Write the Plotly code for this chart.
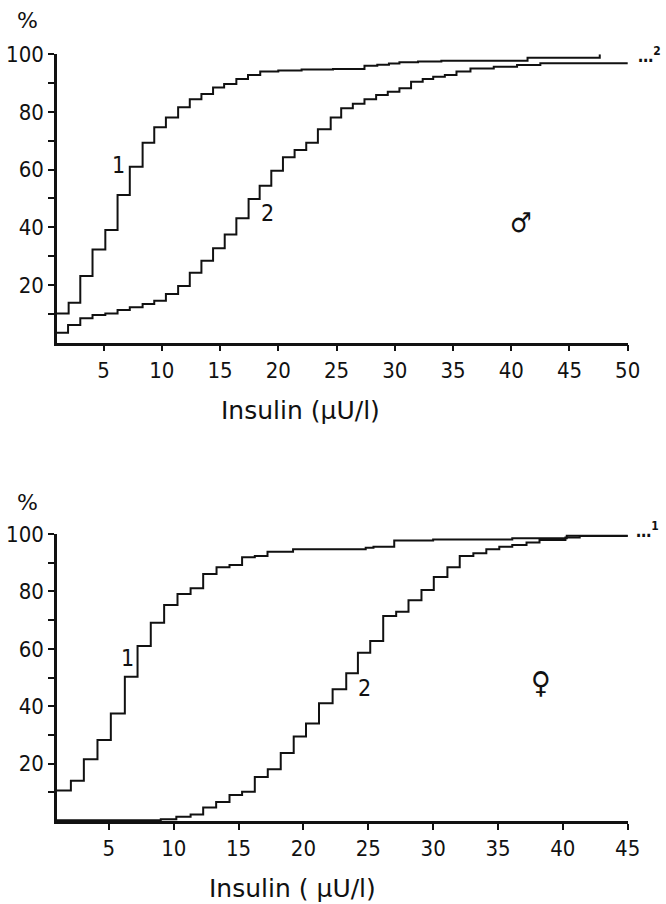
import plotly.graph_objects as go

# ---------------- data ----------------
# Male panel (top)
male_x1 = [1, 2.0, 3.0, 4.05, 5.15, 6.2, 7.25, 8.35, 9.35, 10.35, 11.4, 12.4, 13.4, 14.4,
           15.35, 16.4, 17.4, 18.45, 20.0, 22.0, 24.7, 27.4, 28.5, 29.5, 30.4, 32.0, 34.0,
           41.4, 47.6, 47.6]
male_y1 = [10.1, 13.8, 23.1, 32.3, 39.0, 51.2, 61.0, 69.3, 74.7, 78.1, 81.6, 84.4, 86.2, 88.5,
           89.7, 91.4, 92.8, 94.0, 94.4, 94.7, 94.9, 96.0, 96.4, 96.8, 97.2, 97.5, 97.8,
           98.8, 98.8, 100]
male_x2 = [1, 1.95, 3.0, 4.05, 5.15, 6.2, 7.25, 8.35, 9.35, 10.35, 11.4, 12.4, 13.4, 14.4,
           15.4, 16.4, 17.45, 18.4, 19.4, 20.4, 21.4, 22.4, 23.4, 24.5, 25.4, 26.4, 27.4,
           28.4, 29.4, 30.4, 31.4, 32.4, 33.3, 34.3, 35.3, 36.5, 38.5, 40.5, 42.5, 50.5]
male_y2 = [3.4, 6.1, 8.4, 9.5, 10.1, 11.3, 12.2, 13.4, 14.5, 16.8, 19.6, 24.2, 28.4, 32.7,
           37.5, 43.1, 49.8, 54.4, 59.6, 64.3, 66.8, 69.3, 74.0, 78.1, 81.3, 82.8, 84.4,
           85.9, 87.0, 88.2, 90.5, 91.4, 92.2, 92.8, 94.0, 95.1, 95.7, 96.3, 96.9, 97.3]

# Female panel (bottom)
female_x1 = [1, 2.07, 3.07, 4.12, 5.15, 6.23, 7.21, 8.23, 9.26, 10.29, 11.3, 12.27, 13.3,
             14.3, 15.27, 16.25, 17.23, 19.2, 24.8, 25.4, 27.0, 30.0, 36.1, 40.3, 45.3]
female_y1 = [10.6, 14.0, 21.5, 28.2, 37.5, 50.3, 61.0, 69.1, 75.3, 79.1, 81.1, 86.1, 88.4,
             89.2, 91.9, 92.3, 93.8, 94.7, 95.2, 95.6, 97.7, 98.1, 98.5, 99.4, 99.65]
female_x2 = [1, 9.0, 10.2, 11.3, 12.27, 13.27, 14.3, 15.27, 16.25, 17.25, 18.25, 19.25, 20.2,
             21.2, 22.25, 23.3, 24.2, 25.15, 26.15, 27.15, 28.1, 29.1, 30.05, 31.1, 32.05,
             33.1, 34.1, 35.1, 36.1, 37.2, 38.2, 40.2, 41.3, 45.3]
female_y2 = [0.3, 0.6, 1.5, 2.3, 4.7, 6.6, 9.1, 10.2, 15.3, 18.0, 23.7, 29.4, 34.0,
             41.0, 45.9, 51.5, 58.6, 62.7, 71.4, 72.9, 76.9, 80.5, 85.0, 88.4, 92.3,
             93.3, 94.7, 95.6, 96.2, 97.0, 97.9, 98.8, 99.3, 99.6]

male_xticks = [5, 10, 15, 20, 25, 30, 35, 40, 45, 50]
female_xticks = [5, 10, 15, 20, 25, 30, 35, 40, 45]
y_major_ticks = [20, 40, 60, 80, 100]
y_minor_ticks = [10, 30, 50, 70, 90]
x_title_male = "Insulin (μU/l)"
x_title_female = "Insulin ( μU/l)"

# ---------------- figure ----------------
FONT = "DejaVu Sans Condensed, Liberation Sans Narrow, Arial, sans-serif"
WIDE = "DejaVu Sans, Arial, sans-serif"
INK = "#111111"

fig = go.Figure()
line = dict(color=INK, width=2, shape="hv")
fig.add_trace(go.Scatter(x=male_x1, y=male_y1, mode="lines", line=line, xaxis="x", yaxis="y"))
fig.add_trace(go.Scatter(x=male_x2, y=male_y2, mode="lines", line=line, xaxis="x", yaxis="y"))
fig.add_trace(go.Scatter(x=female_x1, y=female_y1, mode="lines", line=line, xaxis="x2", yaxis="y2"))
fig.add_trace(go.Scatter(x=female_x2, y=female_y2, mode="lines", line=line, xaxis="x2", yaxis="y2"))

xdom = [57 / 666, 627.7 / 666]
axis_common = dict(showgrid=False, zeroline=False, showline=True, linecolor=INK, linewidth=2.5,
                   ticks="outside", tickcolor=INK, tickwidth=2, ticklen=6, automargin=False,
                   tickfont=dict(family=FONT, size=22, color=INK))
y_minor = dict(tickmode="array", tickvals=y_minor_ticks, ticks="outside", ticklen=6,
               tickwidth=2, tickcolor=INK, showgrid=False)

fig.update_layout(
    width=666, height=904, autosize=False,
    margin=dict(l=0, r=0, t=0, b=0, pad=0, autoexpand=False),
    paper_bgcolor="white", plot_bgcolor="white",
    showlegend=False,
    xaxis=dict(domain=xdom, range=[1, 50], tickmode="array", tickvals=male_xticks,
               anchor="y", **axis_common),
    yaxis=dict(domain=[1 - 342.5 / 904, 1 - 54.3 / 904], range=[0, 100], tickmode="array",
               tickvals=y_major_ticks, minor=y_minor, anchor="x", **axis_common),
    xaxis2=dict(domain=xdom, range=[1, 45], tickmode="array", tickvals=female_xticks,
                anchor="y2", **axis_common),
    yaxis2=dict(domain=[1 - 821 / 904, 1 - 534 / 904], range=[0, 100], tickmode="array",
                tickvals=y_major_ticks, minor=y_minor, anchor="x2", **axis_common),
)

def ann(text, x, y, xref, yref, size=21, family=FONT, **kw):
    fig.add_annotation(text=text, x=x, y=y, xref=xref, yref=yref, showarrow=False,
                       xanchor=kw.pop("xanchor", "center"), yanchor=kw.pop("yanchor", "middle"),
                       font=dict(family=family, size=size, color=INK), **kw)

# axis titles and "%" labels (paper coordinates)
ann("%", 27 / 666, 1 - 21 / 904, "paper", "paper", size=22, family=WIDE)
ann("%", 27 / 666, 1 - 502 / 904, "paper", "paper", size=22, family=WIDE)
ann(x_title_male, 300 / 666, 1 - 410 / 904, "paper", "paper", size=25, family=WIDE)
ann(x_title_female, 292 / 666, 1 - 888 / 904, "paper", "paper", size=25, family=WIDE)

# curve labels and sex symbols
ann("1", 6.27, 61.6, "x", "y", size=23)
ann("2", 19.1, 44.9, "x", "y", size=23)
ann("♂", 40.8, 41.5, "x", "y", size=27)
ann("1", 6.46, 56.8, "x2", "y2", size=23)
ann("2", 24.7, 46.3, "x2", "y2", size=23)
ann("♀", 38.3, 48.1, "x2", "y2", size=30)

# continuation marks at the right end
ann("<b>…<sup>2</sup></b>", 649 / 666, 1 - 55 / 904, "paper", "paper", size=17)
ann("<b>…<sup>1</sup></b>", 647 / 666, 1 - 530 / 904, "paper", "paper", size=17)

fig.write_html("out.html")
